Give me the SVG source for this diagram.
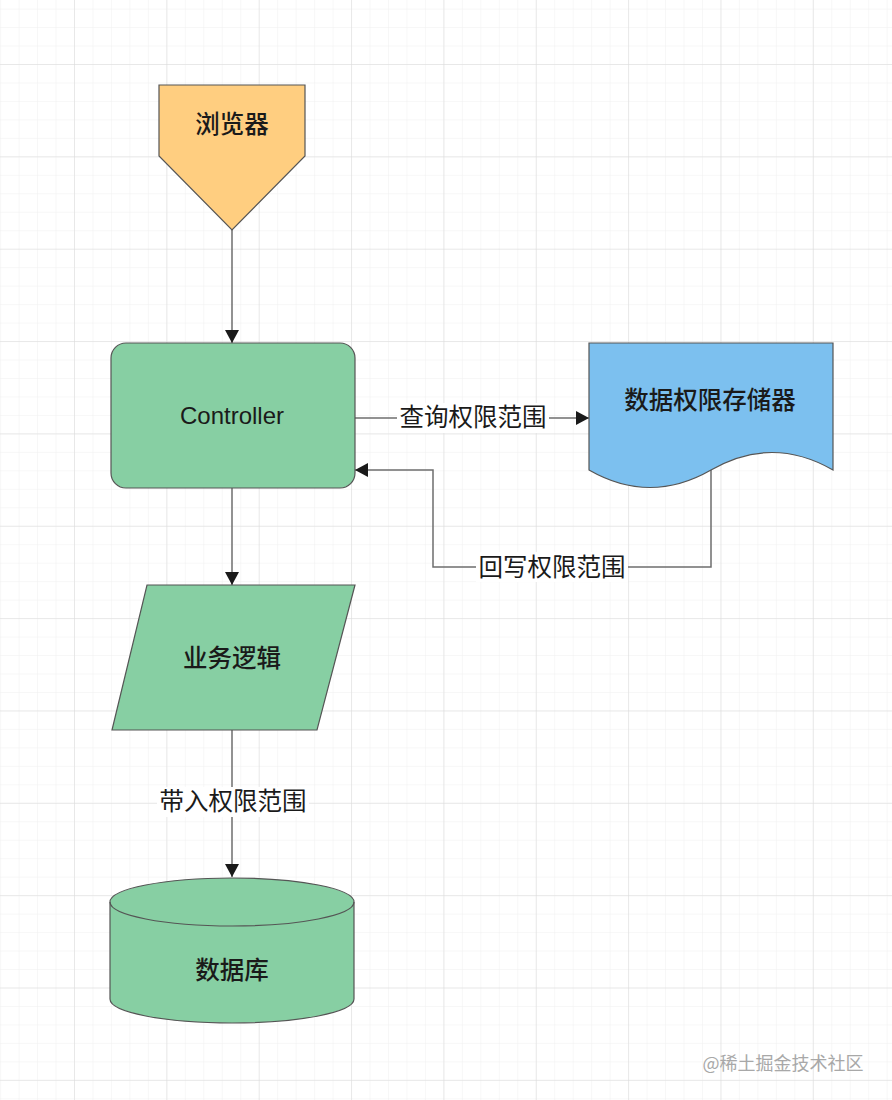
<svg xmlns="http://www.w3.org/2000/svg" width="892" height="1100" viewBox="0 0 892 1100">
  <defs>
    <pattern id="minor" x="74" y="64" width="18.47" height="18.47" patternUnits="userSpaceOnUse">
      <path d="M0,0 H18.47 M0,0 V18.47" fill="none" stroke="#efefef" stroke-width="1"/>
    </pattern>
    <pattern id="major" x="74" y="64" width="92.35" height="92.35" patternUnits="userSpaceOnUse">
      <path d="M0,0 H92.35 M0,0 V92.35" fill="none" stroke="#dadada" stroke-width="1"/>
    </pattern>
    <marker id="arrow" markerUnits="userSpaceOnUse" markerWidth="16" markerHeight="16" viewBox="0 0 16 16" refX="14" refY="8" orient="auto">
      <path d="M1,1 L14,8 L1,15 Z" fill="#1a1a1a"/>
    </marker>
  </defs>
  <style>
    .node { stroke: #555555; stroke-width: 1.2; }
    .green { fill: #87cfa3; }
    .orange { fill: #ffce80; }
    .blue { fill: #7cc0ef; }
    .edge { fill: none; stroke: #6e6e6e; stroke-width: 1.5; }
    .lbl { font-family: "Liberation Sans", "Noto Sans CJK SC", sans-serif; font-size: 24.5px; fill: #1a1a1a; text-anchor: middle; dominant-baseline: central; }
    .nlbl { font-weight: 500; }
    .en { font-size: 24px; }
    .lblbg { fill: #ffffff; }
  </style>
  <rect x="0" y="0" width="892" height="1100" fill="#ffffff"/>
  <rect x="0" y="0" width="892" height="1100" fill="url(#minor)"/>
  <rect x="0" y="0" width="892" height="1100" fill="url(#major)"/>

  <g id="connectors">
    <path class="edge" d="M232,230 V343" marker-end="url(#arrow)"/>
    <path class="edge" d="M232,488 V585" marker-end="url(#arrow)"/>
    <path class="edge" d="M355,418 H589" marker-end="url(#arrow)"/>
    <path class="edge" d="M711,470 V567 H433 V470 H355" marker-end="url(#arrow)"/>
    <path class="edge" d="M232,730 V877" marker-end="url(#arrow)"/>
    <rect class="lblbg" x="397" y="403" width="152" height="30"/>
    <text class="lbl" x="473" y="417">查询权限范围</text>
    <rect class="lblbg" x="476" y="552" width="152" height="30"/>
    <text class="lbl" x="552" y="567">回写权限范围</text>
    <rect class="lblbg" x="157" y="787" width="152" height="30"/>
    <text class="lbl" x="233" y="801">带入权限范围</text>
  </g>

  <g id="browser">
    <polygon class="node orange" points="159,85 305,85 305,156 232,230 159,156"/>
    <text class="lbl nlbl" x="232" y="124">浏览器</text>
  </g>

  <g id="controller">
    <rect class="node green" x="111" y="343" width="244" height="145" rx="15" ry="15"/>
    <text class="lbl en" x="232" y="415">Controller</text>
  </g>

  <g id="storage">
    <path class="node blue" d="M589,343 H833 V470 Q772,435 711,470 Q650,505 589,470 Z"/>
    <text class="lbl nlbl" x="710" y="400">数据权限存储器</text>
  </g>

  <g id="logic">
    <polygon class="node green" points="147,585 355,585 317,730 112,730"/>
    <text class="lbl nlbl" x="232" y="658">业务逻辑</text>
  </g>

  <g id="database">
    <path class="node green" d="M110,902 A122,24 0 0 1 354,902 V999 A122,24 0 0 1 110,999 Z"/>
    <path class="node" fill="none" d="M110,902 A122,24 0 0 0 354,902"/>
    <text class="lbl nlbl" x="232" y="970">数据库</text>
  </g>

  <text x="783" y="1062" font-family="Noto Sans CJK SC, sans-serif" font-size="18" fill="#a8a8a8" text-anchor="middle" dominant-baseline="central">@稀土掘金技术社区</text>
</svg>
